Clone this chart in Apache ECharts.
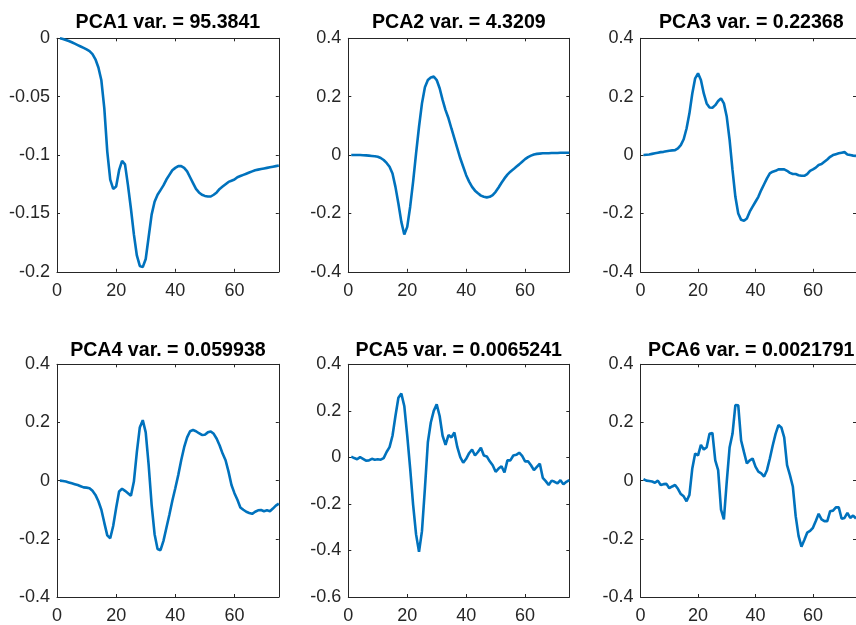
<!DOCTYPE html>
<html>
<head>
<meta charset="utf-8">
<script src="https://cdn.jsdelivr.net/npm/echarts@6/dist/echarts.min.js"></script>
<style>
html,body{margin:0;padding:0;background:#fff;}
#chart{width:856px;height:625px;}
</style>
</head>
<body>
<div id="chart"></div>
<script>
const sampleIndex = [1,2,3,4,5,6,7,8,9,10,11,12,13,14,15,16,17,18,19,20,21,22,23,24,25,26,27,28,29,30,31,32,33,34,35,36,37,38,39,40,41,42,43,44,45,46,47,48,49,50,51,52,53,54,55,56,57,58,59,60,61,62,63,64,65,66,67,68,69,70,71,72,73,74,75];

const titles = ['PCA1 var. = 95.3841','PCA2 var. = 4.3209','PCA3 var. = 0.22368','PCA4 var. = 0.059938','PCA5 var. = 0.0065241','PCA6 var. = 0.0021791'];

const xTicks = [0,20,40,60];
const yTicks1 = [-0.2,-0.15,-0.1,-0.05,0];
const yTicks2 = [-0.4,-0.2,0,0.2,0.4];
const yTicks5 = [-0.6,-0.4,-0.2,0,0.2,0.4];

const pca1 = [0,-0.0006,-0.0014,-0.0023,-0.0034,-0.0046,-0.0058,-0.007,-0.0082,-0.0095,-0.011,-0.0135,-0.018,-0.025,-0.036,-0.06,-0.097,-0.121,-0.129,-0.127,-0.113,-0.105,-0.108,-0.126,-0.146,-0.168,-0.186,-0.195,-0.196,-0.189,-0.17,-0.151,-0.14,-0.134,-0.13,-0.126,-0.121,-0.117,-0.113,-0.111,-0.1095,-0.1095,-0.111,-0.114,-0.119,-0.124,-0.129,-0.132,-0.134,-0.135,-0.1355,-0.1355,-0.134,-0.132,-0.129,-0.127,-0.125,-0.123,-0.122,-0.121,-0.119,-0.118,-0.117,-0.116,-0.115,-0.114,-0.113,-0.1125,-0.112,-0.1115,-0.111,-0.1105,-0.11,-0.1095,-0.109];

const pca2 = [0,0,0,0,-0.0005,-0.001,-0.002,-0.003,-0.004,-0.006,-0.01,-0.017,-0.027,-0.04,-0.063,-0.109,-0.166,-0.229,-0.272,-0.246,-0.177,-0.091,0.006,0.097,0.177,0.232,0.257,0.266,0.269,0.257,0.229,0.189,0.154,0.126,0.091,0.057,0.023,-0.011,-0.04,-0.069,-0.091,-0.109,-0.122,-0.131,-0.139,-0.143,-0.145,-0.143,-0.137,-0.126,-0.111,-0.095,-0.08,-0.067,-0.057,-0.049,-0.04,-0.032,-0.023,-0.014,-0.007,-0.002,0.002,0.004,0.005,0.006,0.006,0.006,0.007,0.007,0.007,0.008,0.008,0.008,0.008];

const pca3 = [0,0.001,0.002,0.004,0.006,0.008,0.01,0.011,0.013,0.015,0.016,0.017,0.023,0.034,0.054,0.091,0.143,0.211,0.263,0.28,0.257,0.211,0.177,0.163,0.162,0.171,0.185,0.194,0.177,0.131,0.051,-0.051,-0.143,-0.2,-0.222,-0.225,-0.217,-0.194,-0.177,-0.16,-0.143,-0.12,-0.1,-0.08,-0.063,-0.057,-0.054,-0.049,-0.049,-0.049,-0.054,-0.061,-0.065,-0.065,-0.069,-0.071,-0.071,-0.065,-0.054,-0.049,-0.043,-0.034,-0.031,-0.023,-0.015,-0.006,0,0.003,0.006,0.008,0.01,0.002,0,-0.002,-0.003];

const pca4 = [0,-0.001,-0.003,-0.006,-0.009,-0.012,-0.015,-0.019,-0.023,-0.024,-0.026,-0.035,-0.049,-0.071,-0.1,-0.145,-0.188,-0.198,-0.156,-0.094,-0.037,-0.028,-0.035,-0.043,-0.052,-0.003,0.098,0.183,0.208,0.166,0.053,-0.083,-0.184,-0.235,-0.239,-0.207,-0.162,-0.117,-0.069,-0.026,0.019,0.07,0.115,0.149,0.17,0.174,0.17,0.163,0.157,0.158,0.166,0.169,0.161,0.144,0.121,0.093,0.07,0.031,-0.015,-0.043,-0.066,-0.092,-0.1,-0.107,-0.111,-0.114,-0.107,-0.102,-0.101,-0.105,-0.102,-0.105,-0.096,-0.086,-0.079];

const pca5 = [0.003,-0.003,-0.008,0.001,-0.006,-0.014,-0.013,-0.006,-0.01,-0.008,-0.01,-0.003,0.023,0.044,0.093,0.178,0.256,0.274,0.221,0.093,-0.048,-0.204,-0.331,-0.406,-0.317,-0.133,0.065,0.15,0.2,0.228,0.178,0.093,0.054,0.096,0.086,0.107,0.044,0.001,-0.023,-0.006,0.018,0.034,0.008,0.023,0.041,0.008,0.004,-0.017,-0.034,-0.062,-0.048,-0.038,-0.065,-0.013,-0.013,0.008,0.011,0.02,0.006,-0.017,-0.017,-0.034,-0.055,-0.041,-0.027,-0.088,-0.102,-0.119,-0.1,-0.105,-0.112,-0.098,-0.116,-0.105,-0.098];

const pca6 = [0.005,0,-0.001,-0.003,-0.007,0,-0.015,-0.012,-0.011,-0.026,-0.02,-0.015,-0.028,-0.046,-0.054,-0.071,-0.049,0.042,0.093,0.087,0.123,0.107,0.115,0.161,0.164,0.07,0.036,-0.1,-0.133,-0.003,0.115,0.161,0.26,0.259,0.138,0.098,0.059,0.07,0.076,0.048,0.031,0.025,0.014,0.036,0.076,0.121,0.161,0.191,0.183,0.149,0.053,0.019,-0.02,-0.122,-0.19,-0.227,-0.204,-0.179,-0.173,-0.162,-0.139,-0.114,-0.133,-0.139,-0.139,-0.105,-0.103,-0.092,-0.092,-0.131,-0.128,-0.111,-0.128,-0.12,-0.13];

const seriesValues = [pca1,pca2,pca3,pca4,pca5,pca6];
const yTickSets = [yTicks1,yTicks2,yTicks2,yTicks2,yTicks5,yTicks2];

const chart = echarts.init(document.getElementById('chart'), null, {renderer:'canvas'});

const FONT = "Arial, 'Liberation Sans', Helvetica, sans-serif";
const AX = '#262626';
const colLeft = [57, 348.3, 640.6];
const colWidth = [221.8, 221, 221.4];
const rowTop = [38.3, 364.3];
const rowHeight = [233.5, 235.7];

const grids = [], xAxes = [], yAxes = [], series = [], titleArr = [];
for (let i = 0; i < 6; i++) {
  const r = Math.floor(i / 3), c = i % 3;
  grids.push({left: colLeft[c], top: rowTop[r], width: colWidth[c], height: rowHeight[r], containLabel: false});
  const yt = yTickSets[i];
  const yMin = yt[0], yMax = yt[yt.length - 1];
  const yInt = +(yt[1] - yt[0]).toFixed(4);
  const common = () => ({
    axisLine: {show: true, onZero: false, lineStyle: {color: AX, width: 1}},
    axisTick: {show: true, inside: true, length: 3, lineStyle: {color: AX, width: 1}},
    splitLine: {show: false}
  });
  xAxes.push(Object.assign({
    type: 'value', gridIndex: i, position: 'bottom', min: 0, max: 75, interval: 20,
    axisLabel: {show: true, color: AX, fontSize: 18, fontFamily: FONT, margin: 10, showMaxLabel: false,
      formatter: v => (xTicks.indexOf(v) >= 0 ? String(v) : '')}
  }, common()));
  xAxes.push(Object.assign({
    type: 'value', gridIndex: i, position: 'top', min: 0, max: 75, interval: 20,
    axisLabel: {show: false}
  }, common()));
  yAxes.push(Object.assign({
    type: 'value', gridIndex: i, position: 'left', min: yMin, max: yMax, interval: yInt,
    axisLabel: {show: true, color: AX, fontSize: 18, fontFamily: FONT, margin: 7}
  }, common()));
  yAxes.push(Object.assign({
    type: 'value', gridIndex: i, position: 'right', min: yMin, max: yMax, interval: yInt,
    axisLabel: {show: false}
  }, common()));
  series.push({
    type: 'line', xAxisIndex: 2 * i, yAxisIndex: 2 * i,
    data: sampleIndex.map((x, k) => [x, seriesValues[i][k]]),
    showSymbol: false, symbol: 'none', smooth: false,
    lineStyle: {color: '#0072BD', width: 2.6},
    clip: true, animation: false
  });
  titleArr.push({
    text: titles[i],
    left: colLeft[c] + colWidth[c] / 2, top: r === 0 ? 13 : 341,
    textAlign: 'center', padding: 0,
    textStyle: {fontSize: 19.6, fontWeight: 'bold', color: '#000', fontFamily: FONT}
  });
}

chart.setOption({
  animation: false,
  backgroundColor: '#fff',
  title: titleArr,
  grid: grids,
  xAxis: xAxes,
  yAxis: yAxes,
  series: series
});
</script>
</body>
</html>
